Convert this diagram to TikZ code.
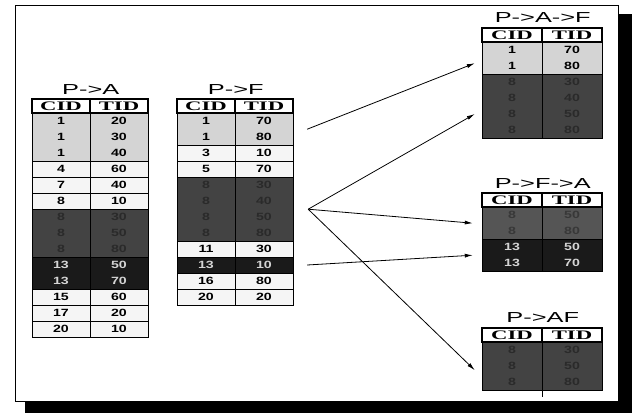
\documentclass[tikz,border=0pt]{standalone}
\usepackage{fontspec}
\setmainfont{Liberation Sans}
\newfontfamily\numfont[FakeStretch=1.35]{Liberation Sans}
\newfontfamily\headfont[FakeStretch=1.75]{Liberation Serif}
\newfontfamily\ttlfont[FakeStretch=1.75]{Liberation Sans}
\usetikzlibrary{positioning,calc,arrows.meta}
\definecolor{litegray}{HTML}{D4D4D4}
\definecolor{plaingray}{HTML}{F5F5F5}
\definecolor{rowdimfill}{HTML}{434343}
\definecolor{rowdimtxt}{HTML}{2A2A2A}
\definecolor{rowmidfill}{HTML}{555555}
\definecolor{rowmidtxt}{HTML}{383838}
\definecolor{deepgray}{HTML}{1A1A1A}
\definecolor{deeptxt}{HTML}{D4D4D4}

\begin{document}
\begin{tikzpicture}[x=1pt,y=-1pt,
  cell/.style={minimum width=#1,minimum height=16pt,inner sep=0pt,
    font=\numfont\bfseries\fontsize{10.5}{10.5}\selectfont},
  cell/.default=58pt,
  head/.style={draw,line width=1.5pt,fill=white,minimum width=#1,minimum height=14pt,
    inner sep=0pt,font=\headfont\bfseries\fontsize{13}{13}\selectfont},
  head/.default=58pt,
  ttl/.style={anchor=base,inner sep=0pt,font=\ttlfont\fontsize{14.5}{14.5}\selectfont},
  rowlite/.style={fill=litegray},
  rowplain/.style={fill=plaingray},
  rowdim/.style={fill=rowdimfill,text=rowdimtxt},
  rowmid/.style={fill=rowmidfill,text=rowmidtxt},
  rowdeep/.style={fill=deepgray,text=deeptxt},
  rowline/.style={line width=0.5pt},
  link/.style={line width=0.8pt,-{Latex[length=8pt,width=4pt]}}]
  \useasboundingbox (0,0) rectangle (638,413);
  \draw[fill=black] (25,14) rectangle (631,412);
  \draw[fill=white,line width=0.8pt] (15,5) rectangle (618,401);

  % P->A
  \node[head] (pa-hc) at (61,106) {CID};
  \node[head] (pa-ht) at (119,106) {TID};
  \node[ttl] (pa-ttl) at ($(pa-hc.north east)+(0,-4)$) {P->A};
  \foreach [count=\i] \cv/\tv/\rs in {1/20/rowlite,1/30/rowlite,1/40/rowlite,4/60/rowplain,
      7/40/rowplain,8/10/rowplain,8/30/rowdim,8/50/rowdim,8/80/rowdim,13/50/rowdeep,
      13/70/rowdeep,15/60/rowplain,17/20/rowplain,20/10/rowplain} {
    \node[cell,\rs] (pa-c\i) at (61,105+16*\i) {\cv};
    \node[cell,\rs] (pa-t\i) at (119,105+16*\i) {\tv};
  }
  \foreach \a/\b in {1/3,4/4,5/5,6/6,7/9,10/11,12/12,13/13,14/14}
    \draw[rowline] (pa-c\a.north west) rectangle (pa-t\b.south east);
  \draw[rowline] (pa-c1.north east) -- (pa-c14.south east);

  % P->F
  \node[head] (pf-hc) at (206,106) {CID};
  \node[head] (pf-ht) at (264,106) {TID};
  \node[ttl] (pf-ttl) at ($(pf-hc.north east)+(0,-4)$) {P->F};
  \foreach [count=\i] \cv/\tv/\rs in {1/70/rowlite,1/80/rowlite,3/10/rowplain,5/70/rowplain,
      8/30/rowdim,8/40/rowdim,8/50/rowdim,8/80/rowdim,11/30/rowplain,13/10/rowdeep,
      16/80/rowplain,20/20/rowplain} {
    \node[cell,\rs] (pf-c\i) at (206,105+16*\i) {\cv};
    \node[cell,\rs] (pf-t\i) at (264,105+16*\i) {\tv};
  }
  \foreach \a/\b in {1/2,3/3,4/4,5/8,9/9,10/10,11/11,12/12}
    \draw[rowline] (pf-c\a.north west) rectangle (pf-t\b.south east);
  \draw[rowline] (pf-c1.north east) -- (pf-c12.south east);

  % P->A->F
  \node[head=60pt] (paf-hc) at (512,35) {CID};
  \node[head=60pt] (paf-ht) at (572,35) {TID};
  \node[ttl] (paf-ttl) at ($(paf-hc.north east)+(0,-5)$) {P->A->F};
  \foreach [count=\i] \cv/\tv/\rs in {1/70/rowlite,1/80/rowlite,8/30/rowdim,8/40/rowdim,
      8/50/rowdim,8/80/rowdim} {
    \node[cell=60pt,\rs] (paf-c\i) at (512,34+16*\i) {\cv};
    \node[cell=60pt,\rs] (paf-t\i) at (572,34+16*\i) {\tv};
  }
  \foreach \a/\b in {1/2,3/6}
    \draw[rowline] (paf-c\a.north west) rectangle (paf-t\b.south east);
  \draw[rowline] (paf-c1.north east) -- (paf-c6.south east);

  % P->F->A
  \node[head=60pt] (pfa-hc) at (512,200) {CID};
  \node[head=60pt] (pfa-ht) at (572,200) {TID};
  \node[ttl] (pfa-ttl) at ($(pfa-hc.north east)+(0,-4)$) {P->F->A};
  \foreach [count=\i] \cv/\tv/\rs in {8/50/rowmid,8/80/rowmid,13/50/rowdeep,13/70/rowdeep} {
    \node[cell=60pt,\rs] (pfa-c\i) at (512,199+16*\i) {\cv};
    \node[cell=60pt,\rs] (pfa-t\i) at (572,199+16*\i) {\tv};
  }
  \foreach \a/\b in {1/2,3/4}
    \draw[rowline] (pfa-c\a.north west) rectangle (pfa-t\b.south east);
  \draw[rowline] (pfa-c1.north east) -- (pfa-c4.south east);

  % P->AF
  \node[head=60pt] (pap-hc) at (512,335) {CID};
  \node[head=60pt] (pap-ht) at (572,335) {TID};
  \node[ttl] (pap-ttl) at ($(pap-hc.north east)+(0,-5)$) {P->AF};
  \foreach [count=\i] \cv/\tv/\rs in {8/30/rowdim,8/50/rowdim,8/80/rowdim} {
    \node[cell=60pt,\rs] (pap-c\i) at (512,334+16*\i) {\cv};
    \node[cell=60pt,\rs] (pap-t\i) at (572,334+16*\i) {\tv};
  }
  \draw[rowline] (pap-c1.north west) rectangle (pap-t3.south east);
  \draw[rowline] (pap-c1.north east) -- ($(pap-c3.south east)+(0,7)$);

  % joins
  \coordinate (s1) at ($(pf-t1.south east)+(14,0)$);
  \coordinate (s2) at ($(pf-t6.south east)+(15,0)$);
  \coordinate (s3) at ($(pf-t10.east)+(14,0)$);
  \coordinate (e1) at ($(paf-c1.south west)+(-7,5)$);
  \coordinate (e2) at ($(paf-c5.west)+(-7,0)$);
  \coordinate (e3) at ($(pfa-c1.south west)+(-9,0)$);
  \coordinate (e4) at ($(pfa-c3.south west)+(-9,0)$);
  \coordinate (e5) at ($(pap-c2.south west)+(-7,-4)$);
  \draw[link] (s1) -- (e1);
  \draw[link] (s2) -- (e2);
  \draw[link] (s2) -- (e3);
  \draw[link] (s3) -- (e4);
  \draw[link] (s2) -- (e5);
\end{tikzpicture}
\end{document}
